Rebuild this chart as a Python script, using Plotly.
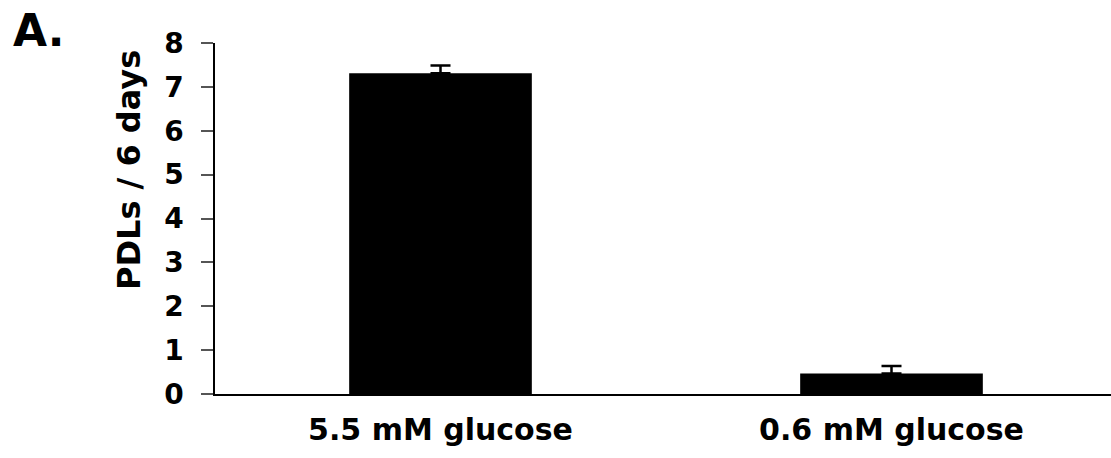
import plotly.graph_objects as go

categories = ["5.5 mM glucose", "0.6 mM glucose"]
values = [7.31, 0.47]
errors = [0.18, 0.17]
y_ticks = [0, 1, 2, 3, 4, 5, 6, 7, 8]

FONT = "DejaVu Sans"
W, H = 1111, 458
L, R, T, B = 215, 0, 43, 64

fig = go.Figure()
fig.add_trace(go.Bar(
    x=categories,
    y=values,
    width=0.405,
    marker=dict(color="black", line=dict(width=0)),
    error_y=dict(type="data", array=errors, symmetric=False, arrayminus=[0, 0],
                 color="black", thickness=2.5, width=10),
))

pw = W - L - R
ph = H - T - B


def px_to_paper(x, y):
    return (x - L) / pw, (H - B - y) / ph


tx, ty = px_to_paper(129, 170)
ax_, ay_ = px_to_paper(11, 3)

fig.update_layout(
    width=W, height=H,
    margin=dict(l=L, r=R, t=T, b=B),
    paper_bgcolor="white", plot_bgcolor="white",
    showlegend=False,
    xaxis=dict(
        type="category",
        range=[-0.5, -0.5 + pw / 451],
        showline=True, linecolor="black", linewidth=1.5,
        ticks="", showgrid=False, zeroline=False,
        tickfont=dict(family=FONT, size=30, color="black", weight="bold"),
        ticklabelstandoff=8,
    ),
    yaxis=dict(
        range=[0, 8],
        tickvals=y_ticks,
        showline=True, linecolor="black", linewidth=1.5,
        ticks="outside", ticklen=12, tickcolor="#555555", tickwidth=1.5,
        showgrid=False, zeroline=False,
        tickfont=dict(family=FONT, size=28, color="black", weight="bold"),
        ticklabelstandoff=12,
    ),
    annotations=[
        dict(text="PDLs / 6 days", textangle=-90, x=tx, y=ty,
             xref="paper", yref="paper", showarrow=False,
             xanchor="center", yanchor="middle",
             font=dict(family=FONT, size=32, color="black", weight="bold")),
        dict(text="A.", x=ax_, y=ay_, xref="paper", yref="paper", showarrow=False,
             xanchor="left", yanchor="top",
             font=dict(family=FONT, size=44, color="black", weight="bold")),
    ],
)

fig.write_html(
    "out.html",
    config={"displayModeBar": False},
    post_script="document.body.style.margin='0';document.body.style.overflow='hidden';",
)
